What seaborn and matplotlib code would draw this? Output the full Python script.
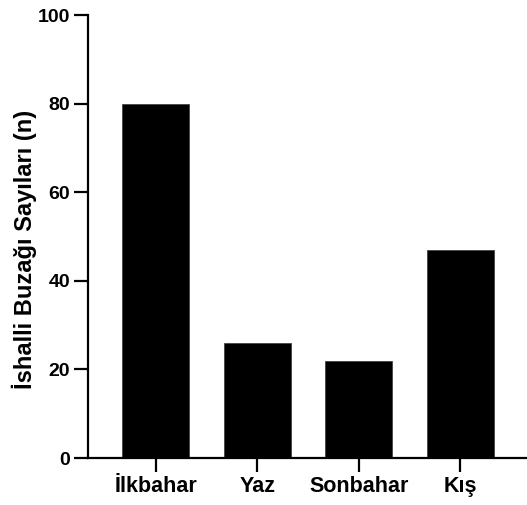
import matplotlib
matplotlib.use('Agg')
import matplotlib.pyplot as plt
import pandas as pd
import seaborn as sns

# Data
seasons = ['İlkbahar', 'Yaz', 'Sonbahar', 'Kış']
counts = [80, 26, 22, 47]
y_ticks = [0, 20, 40, 60, 80, 100]

df = pd.DataFrame({'season': seasons, 'count': counts})

sns.set_style('ticks')
plt.rcParams['font.family'] = ['Liberation Sans', 'DejaVu Sans']
plt.rcParams['font.weight'] = 'bold'
plt.rcParams['text.color'] = 'black'
plt.rcParams['axes.labelcolor'] = 'black'
plt.rcParams['xtick.color'] = 'black'
plt.rcParams['ytick.color'] = 'black'

fig = plt.figure(figsize=(5.27, 5.05), dpi=100)
ax = fig.add_axes([0.167, 0.093, 0.833, 0.877])

sns.barplot(data=df, x='season', y='count', color='black', width=0.66,
            edgecolor='#444444', linewidth=0.6, saturation=1, ax=ax)

ax.set_ylim(0, 100)
ax.set_xlim(-0.67, 3.66)
ax.set_yticks(y_ticks)
ax.set_xlabel('')
ax.set_ylabel('İshalli Buzağı Sayıları (n)', fontsize=17, fontweight='bold')
ax.yaxis.set_label_coords(-0.116, 0.47)

for side in ['top', 'right']:
    ax.spines[side].set_visible(False)
for side in ['left', 'bottom']:
    ax.spines[side].set_linewidth(1.6)
    ax.spines[side].set_color('black')

ax.tick_params(axis='both', length=10, width=1.6, color='black', labelcolor='black',
               direction='out', pad=3)
ax.tick_params(axis='x', labelsize=15.5)
ax.tick_params(axis='y', labelsize=14)
for lbl in ax.get_xticklabels() + ax.get_yticklabels():
    lbl.set_fontweight('bold')

fig.savefig('out.png', dpi=100)
